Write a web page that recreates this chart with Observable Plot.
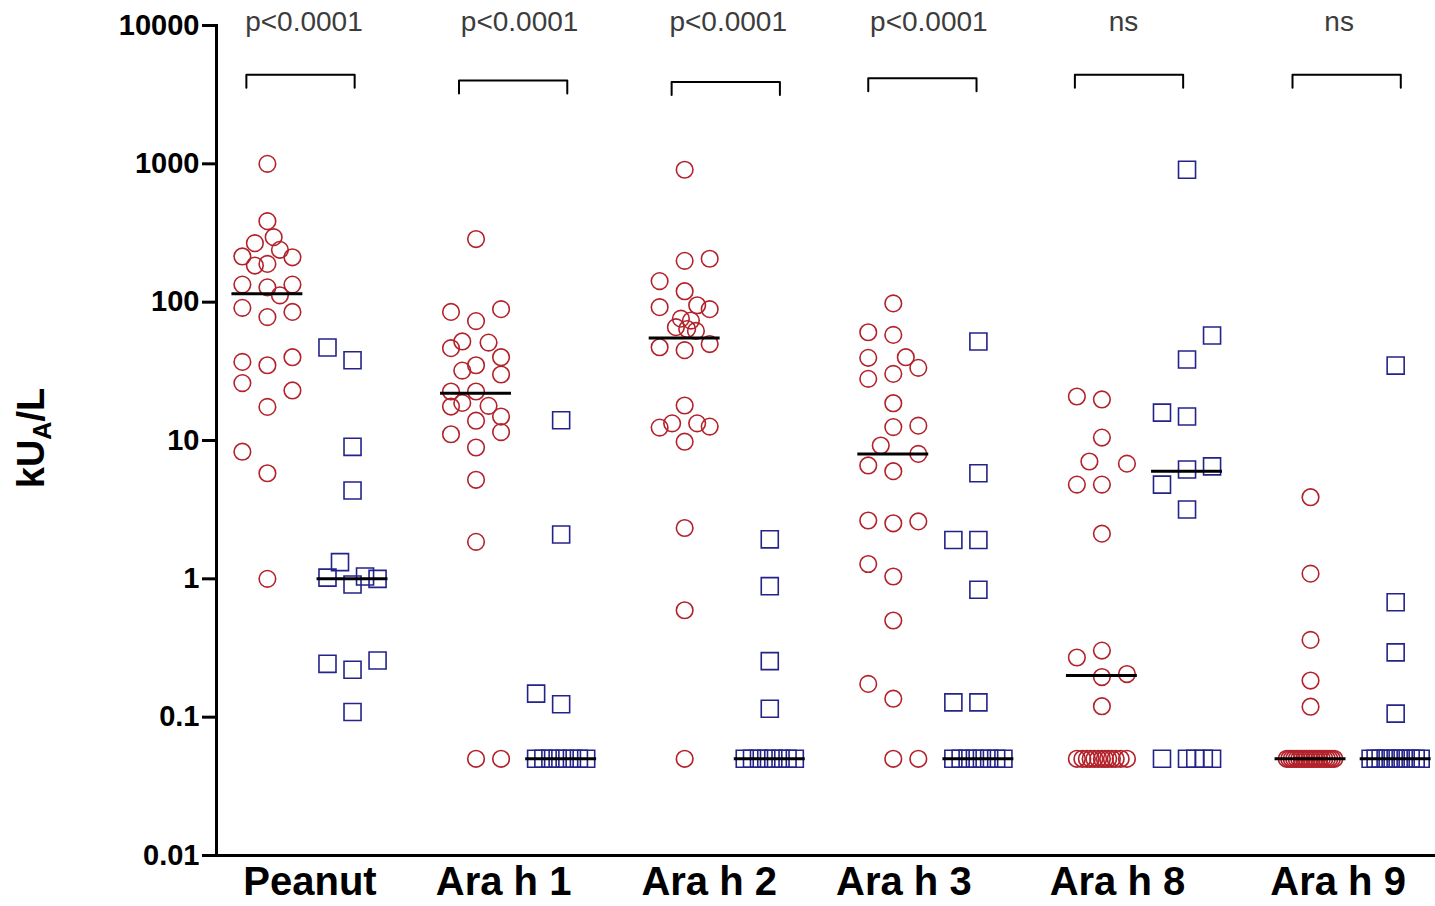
<!DOCTYPE html>
<html><head><meta charset="utf-8">
<script src="https://cdn.jsdelivr.net/npm/d3@7"></script>
<script src="https://cdn.jsdelivr.net/npm/@observablehq/plot@0.6"></script>
<style>body{margin:0;background:#fff;} svg{display:block}</style>
</head><body><div id="chart"></div>
<script>
// ---- data ----
const categories = ["Peanut", "Ara h 1", "Ara h 2", "Ara h 3", "Ara h 8", "Ara h 9"];
const pValues = ["p<0.0001", "p<0.0001", "p<0.0001", "p<0.0001", "ns", "ns"];
const yTicks = [0.01, 0.1, 1, 10, 100, 1000, 10000];
const yTickLabels = ["0.01", "0.1", "1", "10", "100", "1000", "10000"];

// [value kUA/L, horizontal slot within the column]
const peanutRed = [[1000,0],[385,0],[295,0.25],[267,-0.5],[239,0.5],[214,-1],[211,1],[184,-0.5],[189,0],[134,-1],[128,0],[134,1],[112,0.5],[91,-1],[78,0],[85,1],[37,-1],[35,0],[40,1],[26,-1],[23,1],[17.5,0],[8.3,-1],[5.8,0],[1.0,0]];
const peanutBlue = [[47,-1],[38,0],[9.0,0],[4.35,0],[1.32,-0.5],[1.02,-1],[0.91,0],[1.04,0.5],[1.0,1],[0.243,-1],[0.22,0],[0.257,1],[0.109,0]];
const araH1Red = [[286,0],[85,-1],[73,0],[89,1],[46.5,-1],[52,-0.55],[51,0.5],[40,1],[32,-0.55],[35,0],[30,1],[22.6,-1],[22.6,0],[17.6,-1],[18.7,-0.55],[17.8,0.5],[13.9,0],[14.9,1],[11.5,1],[11.1,-1],[8.9,0],[5.2,0],[1.85,0],[0.05,0],[0.05,1]];
const araH1Blue = [[14,0],[2.09,0],[0.148,-1],[0.124,0],[0.05,-1],[0.05,-0.71],[0.05,-0.43],[0.05,-0.14],[0.05,0.14],[0.05,0.43],[0.05,0.71],[0.05,1]];
const araH2Red = [[906,0],[199,0],[206,1],[142,-1],[120,0],[92,-1],[95,0.5],[89,1],[76,-0.15],[73.6,0.25],[66,-0.35],[64,0.1],[62,0.45],[47.2,-1],[45,0],[49.8,1],[17.9,0],[13.3,-0.5],[12.4,-1],[13.3,0.5],[12.6,1],[9.8,0],[2.33,0],[0.593,0],[0.05,0]];
const araH2Blue = [[1.93,0],[0.885,0],[0.254,0],[0.115,0],[0.05,-1],[0.05,-0.71],[0.05,-0.43],[0.05,-0.14],[0.05,0.14],[0.05,0.43],[0.05,0.71],[0.05,1]];
const araH3Red = [[98,0],[60.6,-1],[58,0],[39.6,-1],[40,0.5],[33.5,1],[30.3,0],[27.9,-1],[18.6,0],[12.5,0],[12.8,1],[9.2,-0.5],[8.0,1],[6.6,-1],[6.0,0],[2.64,-1],[2.52,0],[2.6,1],[1.28,-1],[1.04,0],[0.5,0],[0.174,-1],[0.136,0],[0.05,0],[0.05,1]];
const araH3Blue = [[52,0],[5.8,0],[1.91,-1],[1.91,0],[0.833,0],[0.128,-1],[0.128,0],[0.05,-1],[0.05,-0.71],[0.05,-0.43],[0.05,-0.14],[0.05,0.14],[0.05,0.43],[0.05,0.71],[0.05,1]];
const araH8Red = [[20.8,-1],[19.8,0],[10.5,0],[7.05,-0.5],[6.8,1],[4.8,-1],[4.8,0],[2.12,0],[0.303,0],[0.27,-1],[0.195,0],[0.205,1],[0.12,0],[0.05,-1],[0.05,-0.78],[0.05,-0.6],[0.05,-0.45],[0.05,-0.3],[0.05,-0.15],[0.05,0],[0.05,0.12],[0.05,0.25],[0.05,0.4],[0.05,0.55],[0.05,0.75],[0.05,1]];
const araH8Blue = [[907,0],[57.4,1],[38.5,0],[15.9,-1],[14.9,0],[6.17,0],[6.5,1],[4.8,-1],[3.17,0],[0.05,-1],[0.05,0],[0.05,0.33],[0.05,0.67],[0.05,1]];
const araH9Red = [[3.89,0],[1.09,0],[0.362,0],[0.184,0],[0.119,0],[0.05,-0.95],[0.05,-0.85],[0.05,-0.75],[0.05,-0.65],[0.05,-0.55],[0.05,-0.45],[0.05,-0.35],[0.05,-0.25],[0.05,-0.15],[0.05,-0.05],[0.05,0.05],[0.05,0.15],[0.05,0.25],[0.05,0.35],[0.05,0.45],[0.05,0.55],[0.05,0.65],[0.05,0.75],[0.05,0.85],[0.05,0.95]];
const araH9Blue = [[34.8,0],[0.677,0],[0.294,0],[0.106,0],[0.05,-1],[0.05,-0.8],[0.05,-0.6],[0.05,-0.4],[0.05,-0.2],[0.05,0],[0.05,0.2],[0.05,0.4],[0.05,0.6],[0.05,0.8],[0.05,1]];

const redMedians = [115, 22, 55, 8, 0.2, 0.05];
const blueMedians = [1.0, 0.05, 0.05, 0.05, 6, 0.05];
const bracketTops = [4400, 4000, 3900, 4150, 4400, 4400];

// ---- layout (pixel nudges, style only) ----
const labelDx = [0, -15, -18, -32, -27, -15];
const pDx = [-6, 1, 1, -7, -21, -14];
const bracketDx = [-1, 3, 7, -5, -7, 2];

// ---- build tables ----
const redSets = [peanutRed, araH1Red, araH2Red, araH3Red, araH8Red, araH9Red];
const blueSets = [peanutBlue, araH1Blue, araH2Blue, araH3Blue, araH8Blue, araH9Blue];
const OFF = 0.204, STEP = 0.12, HALF = 0.17, UNIT = 208.6;
const RED = "#b3222a", BLUE = "#23238a";

const redRows = [], blueRows = [], medRows = [], bracketRows = [];
categories.forEach((c, i) => {
  redSets[i].forEach(([v, s]) => redRows.push({allergen: c, value: v, x: i - OFF + s * STEP}));
  blueSets[i].forEach(([v, s]) => blueRows.push({allergen: c, value: v, x: i + OFF + s * STEP}));
  medRows.push({x1: i - OFF - HALF, x2: i - OFF + HALF, y: redMedians[i]});
  medRows.push({x1: i + OFF - HALF, x2: i + OFF + HALF, y: blueMedians[i]});
  const t = bracketTops[i], b = t / 1.24, sh = bracketDx[i] / UNIT;
  const l = i - 0.30 + sh, r = i + 0.219 + sh;
  bracketRows.push({allergen: c, x: l, y: b}, {allergen: c, x: l, y: t}, {allergen: c, x: r, y: t}, {allergen: c, x: r, y: b});
});

const FONT = "'Liberation Sans', Arial, sans-serif";

const chart = Plot.plot({
  width: 1435, height: 906,
  marginLeft: 216, marginRight: 0, marginTop: 25, marginBottom: 51,
  x: {domain: [-0.448, 5.395], axis: null},
  y: {type: "log", domain: [0.01, 10000], axis: null},
  style: {fontFamily: FONT, background: "#fff", color: "#000"},
  marks: [
    Plot.frame({anchor: "left", strokeWidth: 3}),
    Plot.frame({anchor: "bottom", strokeWidth: 3}),
    Plot.axisY({ticks: yTicks, tickFormat: d => yTickLabels[yTicks.indexOf(d)], tickSize: 14, tickPadding: 3,
      strokeWidth: 3, fontSize: 29, fontWeight: "bold", label: null}),
    ...categories.map((c, i) => Plot.text([c], {x: () => i, y: () => 0.01, text: d => d, lineAnchor: "top",
      dy: 11, dx: labelDx[i], fontSize: 40, fontWeight: "bold", fill: "#000"})),
    Plot.dot(redRows, {x: "x", y: "value", r: 8.3, stroke: RED, strokeWidth: 1.6, fill: "none"}),
    Plot.dot(blueRows, {x: "x", y: "value", symbol: "square", r: 9.6, stroke: BLUE, strokeWidth: 1.6, fill: "none"}),
    Plot.ruleY(medRows, {x1: "x1", x2: "x2", y: "y", stroke: "#000", strokeWidth: 3}),
    Plot.line(bracketRows, {x: "x", y: "y", z: "allergen", stroke: "#000", strokeWidth: 2, curve: "linear"}),
    ...categories.map((c, i) => Plot.text([pValues[i]], {x: () => i, y: () => 10000, text: d => d, dy: -3, dx: pDx[i],
      fontSize: 28, fill: "#3c3c3c"}))
  ]
});

// y-axis label with subscript
const svg = d3.select(chart);
const lab = svg.append("text")
  .attr("transform", "translate(44,438) rotate(-90)")
  .attr("text-anchor", "middle")
  .attr("font-family", FONT)
  .attr("font-weight", "bold")
  .attr("font-size", 38)
  .attr("fill", "#000");
lab.append("tspan").text("kU");
lab.append("tspan").attr("font-size", 25).attr("dy", 7).text("A");
lab.append("tspan").attr("dy", -7).text("/L");

document.getElementById("chart").append(chart);
</script>
</body></html>
